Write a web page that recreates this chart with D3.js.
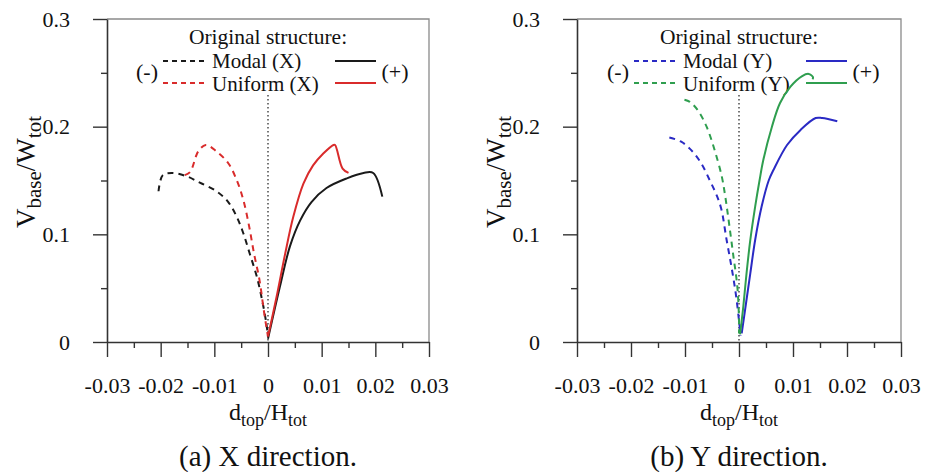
<!DOCTYPE html>
<html><head><meta charset="utf-8">
<script src="https://cdn.jsdelivr.net/npm/d3@7"></script>
<style>
html,body{margin:0;padding:0;background:#fff;}
text{font-family:"Liberation Serif","Times New Roman",serif;fill:#111;}
</style></head>
<body><svg id="c" width="933" height="472"></svg>
<script>
// ---- data: [d_top/H_tot, V_base/W_tot] ----
const modalXNeg = [[-0.0204,0.140],[-0.0196,0.155],[-0.0179,0.157],[-0.0152,0.154],[-0.0127,0.148],[-0.0096,0.140],[-0.0074,0.130],[-0.0058,0.116],[-0.0046,0.101],[-0.0034,0.082],[-0.0021,0.061],[-0.0011,0.039],[-0.0003,0.017],[0,0.005]];
const uniformXNeg = [[-0.0155,0.155],[-0.0145,0.158],[-0.0130,0.177],[-0.0116,0.183],[-0.0096,0.177],[-0.0074,0.166],[-0.0058,0.150],[-0.0046,0.132],[-0.0035,0.107],[-0.0026,0.082],[-0.0016,0.058],[-0.0008,0.030],[-0.0003,0.014],[0,0.005]];
const modalXPos = [[0,0.003],[0.0022,0.051],[0.0041,0.089],[0.0060,0.113],[0.0081,0.130],[0.0109,0.143],[0.0147,0.152],[0.0178,0.157],[0.0196,0.157],[0.0213,0.135]];
const uniformXPos = [[0,0.005],[0.0016,0.042],[0.0032,0.082],[0.0047,0.116],[0.0066,0.147],[0.0084,0.164],[0.0103,0.175],[0.0122,0.183],[0.0125,0.183],[0.0139,0.161],[0.0150,0.157]];
const modalYNeg = [[-0.0129,0.190],[-0.0107,0.186],[-0.0088,0.178],[-0.0070,0.166],[-0.0054,0.150],[-0.0042,0.137],[-0.0033,0.124],[-0.0023,0.095],[-0.0014,0.070],[-0.0006,0.045],[0,0.020],[0.0003,0.006]];
const uniformYNeg = [[-0.0101,0.225],[-0.0091,0.223],[-0.0076,0.215],[-0.0060,0.200],[-0.0045,0.178],[-0.0032,0.154],[-0.0026,0.137],[-0.0020,0.116],[-0.0011,0.082],[-0.0003,0.051],[0,0.020],[0,0.008]];
const modalYPos = [[0.0005,0.008],[0.0013,0.036],[0.0021,0.064],[0.0030,0.095],[0.0042,0.126],[0.0055,0.150],[0.0064,0.160],[0.0089,0.183],[0.0114,0.197],[0.0142,0.208],[0.0154,0.208],[0.0182,0.205]];
const uniformYPos = [[0.0002,0.007],[0.0008,0.033],[0.0014,0.064],[0.0021,0.095],[0.0030,0.126],[0.0038,0.150],[0.0045,0.169],[0.0061,0.200],[0.0076,0.222],[0.0095,0.237],[0.0117,0.247],[0.0129,0.249],[0.0137,0.246],[0.0136,0.244]];

const xMajorTicks = [-0.03,-0.02,-0.01,0,0.01,0.02,0.03];
const xMinorTicks = [-0.025,-0.015,-0.005,0.005,0.015,0.025];
const yMajorTicks = [0,0.1,0.2,0.3];
const yMinorTicks = [0.05,0.15,0.25];
const captions = ["(a) X direction.","(b) Y direction."];
const legendLabels = [["Modal (X)","Uniform (X)"],["Modal (Y)","Uniform (Y)"]];

const colors = {black:"#1a1a1a", red:"#d92b2b", blue:"#2a2ac4", green:"#2f9e4f"};

const panels = [
  {x0:107, x1:429, caption:captions[0], labels:legendLabels[0], c1:colors.black, c2:colors.red,
   series:[[modalXNeg,colors.black,true],[uniformXNeg,colors.red,true],[modalXPos,colors.black,false],[uniformXPos,colors.red,false]]},
  {x0:577, x1:901, caption:captions[1], labels:legendLabels[1], c1:colors.blue, c2:colors.green,
   series:[[modalYNeg,colors.blue,true],[uniformYNeg,colors.green,true],[modalYPos,colors.blue,false],[uniformYPos,colors.green,false]]}
];

const svg = d3.select("#c");
const yTop = 19, yBot = 342;
const fmtX = d => d === 0 ? "0" : d.toFixed(2);
const fmtY = d => d === 0 ? "0" : d.toFixed(1);
const FS = 22, LFS = 21;

panels.forEach(p => {
  const x = d3.scaleLinear().domain([-0.03,0.03]).range([p.x0,p.x1]);
  const y = d3.scaleLinear().domain([0,0.3]).range([yBot,yTop]);
  const g = svg.append("g");

  // frame (top, right)
  g.append("path").attr("d",`M${x(-0.03)},${y(0.3)}H${x(0.03)}V${y(0)}`)
    .attr("fill","none").attr("stroke","#8a8a8a").attr("stroke-width",1.3);

  // y axis
  g.append("g").attr("transform",`translate(${x(-0.03)},0)`)
    .call(d3.axisLeft(y).tickValues(yMajorTicks).tickSize(14).tickSizeOuter(0).tickPadding(23).tickFormat(fmtY));
  g.append("g").attr("transform",`translate(${x(-0.03)},0)`)
    .call(d3.axisLeft(y).tickValues(yMinorTicks).tickSize(6).tickSizeOuter(0).tickFormat(""))
    .select(".domain").remove();
  // x axis
  g.append("g").attr("transform",`translate(0,${y(0)})`)
    .call(d3.axisBottom(x).tickValues(xMajorTicks).tickSize(15).tickSizeOuter(0).tickPadding(20).tickFormat(fmtX));
  g.append("g").attr("transform",`translate(0,${y(0)})`)
    .call(d3.axisBottom(x).tickValues(xMinorTicks).tickSize(6).tickSizeOuter(0).tickFormat(""))
    .select(".domain").remove();
  g.selectAll(".domain").attr("stroke","#333").attr("stroke-width",1.6);
  g.selectAll(".tick line").attr("stroke","#333").attr("stroke-width",1.4);
  g.selectAll(".tick text").attr("font-family","Liberation Serif").attr("font-size",FS).attr("fill","#111");

  // dotted zero line
  g.append("line").attr("x1",x(0)).attr("x2",x(0)).attr("y1",95).attr("y2",y(0))
    .attr("stroke","#555").attr("stroke-width",1.6).attr("stroke-dasharray","1.6,2.4");

  // legend
  const cx = x(0);
  g.append("text").attr("x",cx).attr("y",44).attr("text-anchor","middle").attr("font-size",LFS+0.5).text("Original structure:");
  const lx0 = cx - 105, lx1 = cx - 61, tx = cx - 56, sx0 = cx + 67, sx1 = cx + 108;
  [[p.labels[0],p.c1,61,67.5],[p.labels[1],p.c2,83,91]].forEach(([lab,col,ly,by]) => {
    g.append("line").attr("x1",lx0).attr("x2",lx1).attr("y1",ly).attr("y2",ly)
      .attr("stroke",col).attr("stroke-width",2).attr("stroke-dasharray","5,4");
    g.append("text").attr("x",tx).attr("y",by).attr("font-size",LFS).text(lab);
    g.append("line").attr("x1",sx0).attr("x2",sx1).attr("y1",ly).attr("y2",ly)
      .attr("stroke",col).attr("stroke-width",2.2);
  });
  g.append("text").attr("x",cx-121).attr("y",79).attr("text-anchor","middle").attr("font-size",FS).text("(-)");
  g.append("text").attr("x",cx+127).attr("y",79).attr("text-anchor","middle").attr("font-size",FS).text("(+)");

  // curves
  const line = d3.line().x(d => x(d[0])).y(d => y(d[1])).curve(d3.curveCatmullRom.alpha(0.5));
  p.series.forEach(([data,col,dashed]) => {
    g.append("path").attr("d",line(data)).attr("fill","none").attr("stroke",col)
      .attr("stroke-width",2).attr("stroke-dasharray",dashed ? "6,5" : null);
  });

  // axis titles
  const xt = g.append("text").attr("x",cx).attr("y",420).attr("text-anchor","middle").attr("font-size",24);
  xt.append("tspan").text("d");
  xt.append("tspan").attr("dy",6).attr("font-size",18).text("top");
  xt.append("tspan").attr("dy",-6).text("/H");
  xt.append("tspan").attr("dy",6).attr("font-size",18).text("tot");

  const yt = g.append("text").attr("transform",`translate(${p.x0-72},${172}) rotate(-90)`)
    .attr("text-anchor","middle").attr("font-size",27);
  yt.append("tspan").text("V");
  yt.append("tspan").attr("dy",6).attr("font-size",21).text("base");
  yt.append("tspan").attr("dy",-6).text("/W");
  yt.append("tspan").attr("dy",6).attr("font-size",21).text("tot");

  // caption
  g.append("text").attr("x",cx).attr("y",466).attr("text-anchor","middle").attr("font-size",29).text(p.caption);
});
</script></body></html>
